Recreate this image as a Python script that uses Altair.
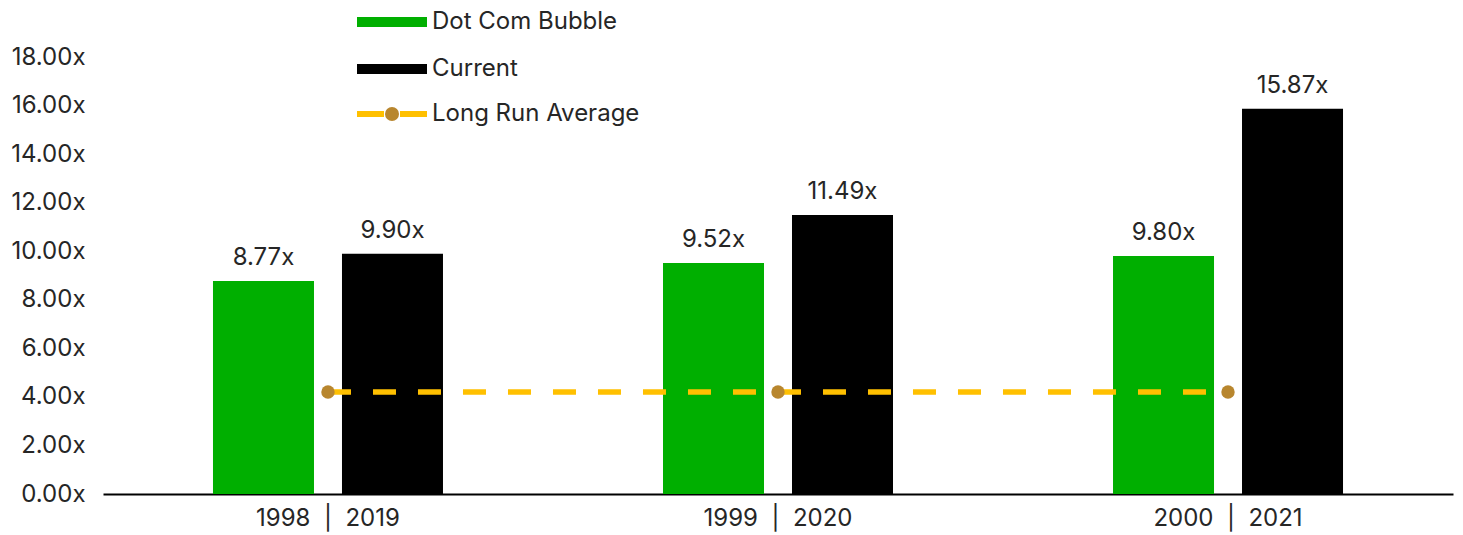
import altair as alt
import pandas as pd

# Category labels (two years compared per group)
categories = ["1998\u00a0\u00a0|\u00a0\u00a02019", "1999\u00a0\u00a0|\u00a0\u00a02020", "2000\u00a0\u00a0|\u00a0\u00a02021"]
series_names = ["Dot Com Bubble", "Current"]
dot_com_values = [8.77, 9.52, 9.80]
current_values = [9.90, 11.49, 15.87]
long_run_label = "Long Run Average"
long_run_values = [4.20, 4.20, 4.20]
y_ticks = [0, 2, 4, 6, 8, 10, 12, 14, 16, 18]

GREEN = "#00AF00"
BLACK = "#000000"
GOLD = "#FFC000"
BROWN = "#B8862E"
TEXT = "#262626"
FONT = "Inter"
FS = 24

bars_df = pd.DataFrame(
    [{"category": c, "series": series_names[0], "value": v} for c, v in zip(categories, dot_com_values)]
    + [{"category": c, "series": series_names[1], "value": v} for c, v in zip(categories, current_values)]
)
avg_df = pd.DataFrame(
    {"category": categories, "avg": long_run_values, "avg_name": [long_run_label] * 3, "dot_name": ["dot"] * 3}
)

x_scale = alt.Scale(domain=categories, paddingInner=0.4889, paddingOuter=0.2444)
x_enc = alt.X(
    "category:N",
    scale=x_scale,
    sort=categories,
    axis=alt.Axis(
        title=None,
        labelAngle=0,
        ticks=False,
        domain=True,
        domainColor="#000000",
        domainWidth=2,
        labelFont=FONT,
        labelFontSize=FS,
        labelColor=TEXT,
        labelPadding=12,
    ),
)
offset_enc = alt.XOffset(
    "series:N", sort=series_names, scale=alt.Scale(domain=series_names, paddingInner=0.217, paddingOuter=0)
)
y_enc = alt.Y(
    "value:Q",
    scale=alt.Scale(domain=[0, 18], nice=False),
    axis=alt.Axis(
        title=None,
        values=y_ticks,
        labelExpr="format(datum.value, '.2f') + 'x'",
        grid=False,
        ticks=False,
        domain=False,
        labelFont=FONT,
        labelFontSize=FS,
        labelColor=TEXT,
        labelPadding=18,
    ),
)

bar_path = "M-5,-0.72H5V0.72H-5Z"
LEGEND_X = 277
LABEL_OFFSET = 28

bars = alt.Chart(bars_df).mark_bar().encode(
    x=x_enc,
    xOffset=offset_enc,
    y=y_enc,
    fill=alt.Fill(
        "series:N",
        scale=alt.Scale(domain=series_names, range=[GREEN, BLACK]),
        legend=alt.Legend(
            title=None,
            orient="none",
            legendX=LEGEND_X,
            legendY=-47,
            symbolType=bar_path,
            symbolSize=196,
            symbolStrokeWidth=0,
            labelFont=FONT,
            labelFontSize=FS,
            labelColor=TEXT,
            labelOffset=LABEL_OFFSET,
            labelLimit=400,
            rowPadding=23,
        ),
    ),
)

labels = alt.Chart(bars_df).transform_calculate(
    label="format(datum.value, '.2f') + 'x'"
).mark_text(font=FONT, fontSize=FS, color=TEXT, baseline="alphabetic", dy=-16).encode(
    x=alt.X("category:N", scale=x_scale, sort=categories),
    xOffset=offset_enc,
    y=alt.Y("value:Q"),
    text="label:N",
)

avg_line = alt.Chart(avg_df).mark_line(strokeWidth=5.5, strokeDash=[23, 22]).encode(
    x=alt.X("category:N", scale=x_scale, sort=categories),
    y=alt.Y("avg:Q"),
    stroke=alt.Stroke(
        "avg_name:N",
        scale=alt.Scale(domain=[long_run_label], range=[GOLD]),
        legend=alt.Legend(
            title=None,
            orient="none",
            legendX=LEGEND_X,
            legendY=45,
            symbolType="M-5,0H5",
            symbolSize=196,
            symbolStrokeWidth=6,
            symbolDash=[27, 16],
            labelFont=FONT,
            labelFontSize=FS,
            labelColor=TEXT,
            labelOffset=LABEL_OFFSET,
            labelLimit=400,
        ),
    ),
)

avg_dots = alt.Chart(avg_df).mark_point(filled=True, size=180, color=BROWN, opacity=1).encode(
    x=alt.X("category:N", scale=x_scale, sort=categories),
    y=alt.Y("avg:Q"),
    shape=alt.Shape(
        "dot_name:N",
        scale=alt.Scale(domain=["dot"], range=["circle"]),
        legend=alt.Legend(
            title=None,
            orient="none",
            legendX=LEGEND_X,
            legendY=45,
            symbolSize=196,
            symbolFillColor=BROWN,
            symbolStrokeWidth=0,
            labelExpr="''",
            labelFontSize=FS,
            labelOffset=LABEL_OFFSET,
        ),
    ),
)

chart = (
    alt.layer(bars, labels, avg_line, avg_dots)
    .properties(
        width=1350,
        height=437,
        background="white",
        autosize=alt.AutoSizeParams(type="none"),
        padding={"left": 103, "top": 57, "right": 10, "bottom": 41},
    )
    .configure_view(strokeWidth=0, stroke=None)
)

chart.save("out.html", embed_options={"renderer": "svg", "actions": False})
